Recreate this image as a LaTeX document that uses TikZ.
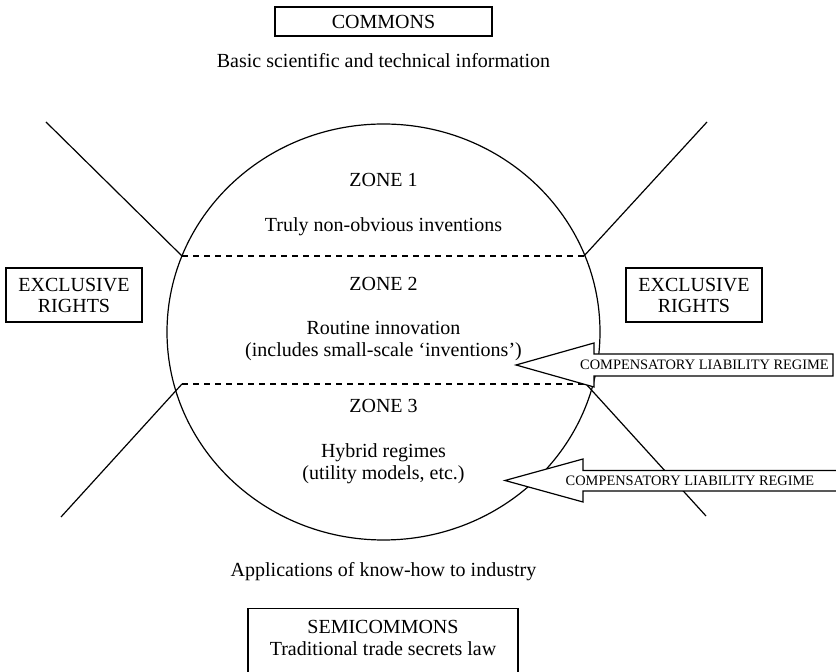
\documentclass[tikz,border=0pt]{standalone}
\usepackage{fontspec}
\setmainfont{Liberation Serif}

\begin{document}
\begin{tikzpicture}[x=0.5pt, y=-0.5pt, line width=0.6pt,
    box_node/.style={draw, align=center, inner sep=0pt, font=\fontsize{10}{10.5}\selectfont},
    zone_text/.style={anchor=base, inner sep=0pt, font=\fontsize{10}{11}\selectfont},
    regime_text/.style={inner sep=0pt, font=\fontsize{7.2}{8}\selectfont},
    zone_line/.style={dash pattern=on 3pt off 2.5pt},
    regime_arrow/.style={draw, fill=white}]

    \useasboundingbox (0,0) rectangle (836,672);

    % boxes
    \node[box_node, minimum width=108.5pt, minimum height=14.5pt] (commons) at (383.5,21.5) {COMMONS};
    \node[box_node, minimum width=68pt, minimum height=27pt] (excl_left) at (74,295) {EXCLUSIVE\\RIGHTS};
    \node[box_node, minimum width=68pt, minimum height=27pt] (excl_right) at (694,295) {EXCLUSIVE\\RIGHTS};
    \node[box_node, anchor=north, minimum width=135pt, inner ysep=6pt, text depth=45pt,
          font=\fontsize{10}{11}\selectfont] (semicommons) at (383,608) {SEMICOMMONS\\Traditional trade secrets law};

    \node[zone_text] (basic) at (383.5,68) {Basic scientific and technical information};
    \node[zone_text] (applied) at (383.5,577) {Applications of know-how to industry};

    % the circle and its zones
    \draw (383.5,332) ellipse [x radius=108.25pt, y radius=104pt];

    \coordinate (d1_left) at (182,256);
    \coordinate (d1_right) at (584,256);
    \coordinate (d2_left) at (182,384);
    \coordinate (d2_right) at (586,384);
    \coordinate (ul) at (46,122);
    \coordinate (ur) at (707,122);
    \coordinate (ll) at (61,517);
    \coordinate (lr) at (706,516);

    \draw[zone_line] (d1_left) -- (d1_right);
    \draw[zone_line] (d2_left) -- (d2_right);
    \draw (ul) -- (d1_left);
    \draw (d1_right) -- (ur);
    \draw (ll) -- (d2_left);
    \draw (d2_right) -- (lr);

    \node[zone_text] (z1) at (383.5,187) {ZONE 1};
    \node[zone_text] (z1_text) at (383.5,232) {Truly non-obvious inventions};
    \node[zone_text] (z2) at (383.5,291) {ZONE 2};
    \node[zone_text] (z2_text) at (383.5,335) {Routine innovation};
    \node[zone_text] (z2_text_b) at (383.5,357) {(includes small-scale `inventions')};
    \node[zone_text] (z3) at (383.5,413) {ZONE 3};
    \node[zone_text] (z3_text) at (383.5,458) {Hybrid regimes};
    \node[zone_text] (z3_text_b) at (383.5,480) {(utility models, etc.)};

    % liability arrows
    \draw[regime_arrow] (516,365) -- (594,343) -- (594,354) -- (833,354) -- (833,376) -- (594,376) -- (594,387) -- cycle;
    \node[regime_text] (regime_up) at (704.5,365) {COMPENSATORY LIABILITY REGIME};
    \draw[regime_arrow] (505,480.5) -- (583,459) -- (583,470.5) -- (850,470.5) -- (850,491) -- (583,491) -- (583,502) -- cycle;
    \node[regime_text] (regime_low) at (690,480.5) {COMPENSATORY LIABILITY REGIME};

\end{tikzpicture}
\end{document}
